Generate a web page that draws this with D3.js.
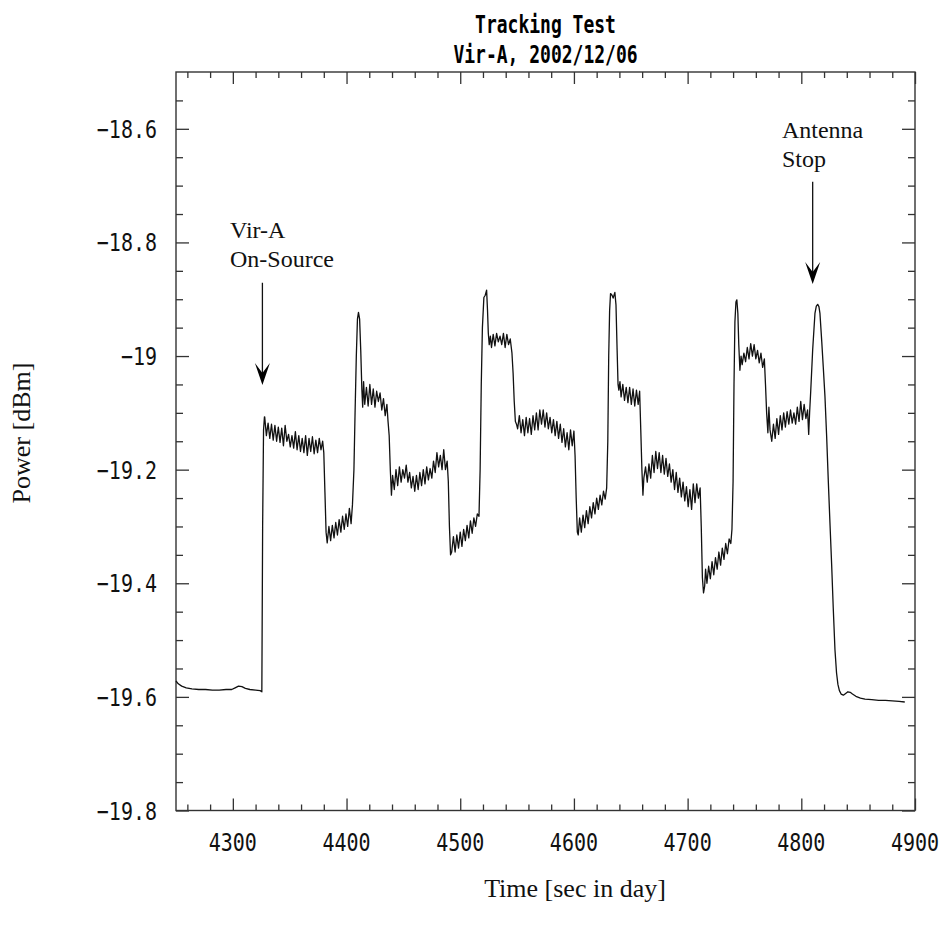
<!DOCTYPE html>
<html>
<head>
<meta charset="utf-8">
<script src="https://cdn.jsdelivr.net/npm/d3@7/dist/d3.min.js"></script>
<style>
html,body{margin:0;padding:0;background:#fff;}
svg{display:block;}
</style>
</head>
<body>
<script>
// ---------------- DATA ----------------
const titleLines = ["Tracking Test", "Vir-A, 2002/12/06"];
const xLabel = "Time [sec in day]";
const yLabel = "Power [dBm]";
const xDomain = [4250, 4900];
const yDomain = [-19.8, -18.5];
const xMajorTicks = [4300, 4400, 4500, 4600, 4700, 4800, 4900];
const yMajorTicks = [-19.8, -19.6, -19.4, -19.2, -19.0, -18.8, -18.6];
const yTickLabels = ["\u221219.8", "\u221219.6", "\u221219.4", "\u221219.2", "\u221219", "\u221218.8", "\u221218.6"];

// time [sec in day]
const time = [
4250,4252,4255,4259,4264,4270,4276,4282,4288,4294,4299,4302,4305,4308,4311,4315,4320,4324,4325.5,
4326.2,4327,4327.8,
4328,4329.5,4331,4332.5,4334,4335.5,4337,4338.5,4340,4341.5,4343,4344.5,4346,4347.5,4349,4350.5,4352,4353.5,4355,4356.5,4358,4359.5,4361,4362.5,4364,4365.5,4367,4368.5,4370,4371.5,4373,4374.5,4376,4377.5,4379,
4380,4381,4382,4383,
4384.5,4386,4387.5,4389,4390.5,4392,4393.5,4395,4396.5,4398,4399.5,4401,4402.5,4404,4405.2,
4406.5,4407.5,4408.6,4409.6,4410.5,4411.5,4412.5,4413.5,4414.2,
4415,4416,4417.5,4419,4420.5,4422,4423.5,4425,4426.5,4428,4429.5,4431,4432.5,4434,4435.5,4436.5,
4437.5,4438.5,4439.5,
4440.5,4442,4443.5,4445,4446.5,4448,4449.5,4451,4452.5,4454,4455.5,4457,4458.5,4460,4461.5,4463,4464.5,4466,4467.5,4469,4470.5,4472,4473.5,4475,4476.5,4478,4479.5,4481,4482.5,4484,4485.5,4487,4488.5,
4489.5,4490.5,4491.5,4492.5,
4494,4495.5,4497,4498.5,4500,4501.5,4503,4504.5,4506,4507.5,4509,4510.5,4512,4513.5,4515,4516.5,
4517.5,4518.5,4519.5,4520.8,4522,4523.2,4524,4524.7,
4525.5,4526.5,4527.5,4529,4530.5,4532,4533.5,4535,4536.5,4538,4539.5,4541,4542.5,4544,4545.5,
4546.5,4547.5,4548.5,4549.5,
4550.5,4552,4553.5,4555,4556.5,4558,4559.5,4561,4562.5,4564,4565.5,4567,4568.5,4570,4571.5,4573,4574.5,4576,4577.5,4579,4580.5,4582,4583.5,4585,4586.5,4588,4589.5,4591,4592.5,4594,4595.5,4597,4598.5,4600,
4601,4602,4603,4603.8,
4605,4606.5,4608,4609.5,4611,4612.5,4614,4615.5,4617,4618.5,4620,4621.5,4623,4624.5,4626,4627.5,4628.8,
4629.8,4630.6,4631.4,4632.2,4633.5,4634.5,4636,4637,4638,4638.8,
4639.5,4640.5,4641.5,4643,4644.5,4646,4647.5,4649,4650.5,4652,4653.5,4655,4656.5,4657.8,
4658.8,4659.8,4660.7,
4661.5,4663,4664.5,4666,4667.5,4669,4670.5,4672,4673.5,4675,4676.5,4678,4679.5,4681,4682.5,4684,4685.5,4687,4688.5,4690,4691.5,4693,4694.5,4696,4697.5,4699,4700.5,4702,4703.5,4705,4706.5,4708,4709.5,4711,
4712,4713,4714,4715,
4715.8,4717,4718.5,4720,4721.5,4723,4724.5,4726,4727.5,4729,4730.5,4732,4733.5,4735,4736.5,4738,4739,
4740,4740.8,4741.6,4742.5,4743.3,4744.2,4745,4746,
4747,4748,4749.5,4751,4752.5,4754,4755.5,4757,4758.5,4760,4761.5,4763,4764.5,4766,4767.5,
4768.5,4769.5,4770.6,
4771.5,4772.5,4774,4775.5,4777,4778.5,4780,4781.5,4783,4784.5,4786,4787.5,4789,4790.5,4792,4793.5,4795,4796.5,4798,4799.5,4801,4802.5,4804,4805.5,4806.5,
4807.3,4808.2,4810,4812,4813.2,4814.4,4815.5,4816.4,4818,4819.3,4820.8,4822.3,4823.7,4825.2,4826.7,4828.1,4829.6,4831,4832.2,4833.5,4835,4837,4839,4841,4843,4845,4848,4852,4856,4862,4868,4874,4880,4886,4891
];

// power [dBm]
const power = [
-19.572,-19.577,-19.581,-19.584,-19.586,-19.587,-19.587,-19.588,-19.588,-19.587,-19.587,-19.584,-19.581,-19.582,-19.585,-19.587,-19.588,-19.589,-19.591,
-19.300,-19.130,-19.107,
-19.107,-19.140,-19.118,-19.145,-19.120,-19.148,-19.122,-19.150,-19.125,-19.152,-19.127,-19.158,-19.122,-19.150,-19.138,-19.160,-19.140,-19.162,-19.133,-19.165,-19.140,-19.168,-19.145,-19.170,-19.140,-19.175,-19.145,-19.168,-19.142,-19.172,-19.148,-19.170,-19.145,-19.165,-19.150,
-19.170,-19.240,-19.310,-19.329,
-19.300,-19.325,-19.298,-19.320,-19.293,-19.315,-19.288,-19.310,-19.282,-19.305,-19.278,-19.300,-19.268,-19.295,-19.262,
-19.200,-19.100,-19.000,-18.935,-18.923,-18.935,-18.990,-19.060,-19.090,
-19.045,-19.085,-19.055,-19.088,-19.050,-19.085,-19.058,-19.090,-19.062,-19.080,-19.065,-19.095,-19.075,-19.105,-19.085,-19.115,
-19.140,-19.200,-19.245,
-19.210,-19.235,-19.200,-19.228,-19.195,-19.222,-19.200,-19.215,-19.192,-19.222,-19.205,-19.232,-19.212,-19.238,-19.210,-19.235,-19.205,-19.228,-19.200,-19.225,-19.195,-19.218,-19.198,-19.215,-19.185,-19.205,-19.170,-19.195,-19.175,-19.200,-19.165,-19.200,-19.185,
-19.220,-19.300,-19.350,-19.345,
-19.318,-19.345,-19.315,-19.338,-19.310,-19.335,-19.305,-19.325,-19.298,-19.320,-19.290,-19.312,-19.285,-19.300,-19.278,-19.282,
-19.200,-19.050,-18.950,-18.897,-18.893,-18.884,-18.920,-18.960,
-18.980,-18.965,-18.985,-18.962,-18.982,-18.960,-18.975,-18.965,-18.980,-18.960,-18.985,-18.962,-18.980,-18.970,-18.995,
-19.030,-19.080,-19.115,-19.120,
-19.128,-19.105,-19.135,-19.112,-19.140,-19.108,-19.135,-19.110,-19.138,-19.105,-19.130,-19.100,-19.130,-19.095,-19.120,-19.095,-19.125,-19.100,-19.128,-19.108,-19.135,-19.112,-19.140,-19.115,-19.145,-19.120,-19.152,-19.128,-19.160,-19.135,-19.165,-19.130,-19.158,-19.132,
-19.175,-19.250,-19.310,-19.315,
-19.285,-19.310,-19.280,-19.302,-19.272,-19.295,-19.265,-19.285,-19.258,-19.278,-19.250,-19.270,-19.245,-19.262,-19.238,-19.252,-19.232,
-19.150,-19.000,-18.920,-18.890,-18.893,-18.898,-18.888,-18.910,-18.990,-19.050,
-19.060,-19.045,-19.072,-19.050,-19.078,-19.055,-19.082,-19.055,-19.085,-19.058,-19.088,-19.060,-19.085,-19.062,
-19.130,-19.200,-19.245,
-19.215,-19.195,-19.222,-19.190,-19.215,-19.175,-19.205,-19.168,-19.198,-19.170,-19.205,-19.175,-19.208,-19.180,-19.212,-19.190,-19.222,-19.200,-19.235,-19.205,-19.240,-19.215,-19.248,-19.222,-19.255,-19.230,-19.265,-19.235,-19.270,-19.225,-19.258,-19.225,-19.250,-19.232,
-19.300,-19.390,-19.417,-19.405,
-19.375,-19.400,-19.370,-19.392,-19.362,-19.385,-19.355,-19.375,-19.345,-19.368,-19.338,-19.358,-19.330,-19.348,-19.322,-19.330,-19.305,
-19.220,-19.050,-18.940,-18.905,-18.901,-18.925,-18.980,-19.025,
-19.000,-19.015,-18.995,-19.010,-18.985,-19.005,-18.978,-19.000,-18.980,-19.005,-18.990,-19.012,-18.995,-19.020,-19.005,
-19.050,-19.100,-19.135,
-19.090,-19.130,-19.150,-19.120,-19.145,-19.110,-19.138,-19.105,-19.130,-19.100,-19.125,-19.098,-19.120,-19.095,-19.118,-19.100,-19.120,-19.090,-19.115,-19.080,-19.112,-19.085,-19.110,-19.095,-19.138,
-19.100,-19.065,-18.989,-18.925,-18.912,-18.909,-18.913,-18.925,-18.975,-19.019,-19.071,-19.142,-19.218,-19.294,-19.368,-19.444,-19.517,-19.558,-19.578,-19.589,-19.595,-19.597,-19.594,-19.591,-19.592,-19.595,-19.599,-19.602,-19.604,-19.605,-19.606,-19.606,-19.607,-19.608,-19.609
];

// annotations (data coordinates)
const annoLabels = [["Vir-A", "On-Source"], ["Antenna", "Stop"]];
const annoTextX = [4297.5, 4783];
const annoTextY = [[-18.792, -18.843], [-18.616, -18.667]];
const arrowX = [4326, 4810];
const arrowTop = [-18.871, -18.693];
const arrowTip = [-19.051, -18.873];

// ---------------- CHART ----------------
const W = 942, H = 936;
const margin = {left: 176, right: 942 - 915, top: 72, bottom: 936 - 810.5};
const svg = d3.select("body").append("svg").attr("width", W).attr("height", H);
svg.append("rect").attr("width", W).attr("height", H).attr("fill", "#fff");

const x = d3.scaleLinear().domain(xDomain).range([margin.left, W - margin.right]);
const y = d3.scaleLinear().domain(yDomain).range([H - margin.bottom, margin.top]);

const axisColor = "#333";
const monoFont = "'DejaVu Sans Mono', 'Liberation Mono', monospace";
const serifFont = "'Liberation Serif', 'DejaVu Serif', serif";

const xMinor = d3.range(4260, 4900, 20).filter(v => v % 100 !== 0);
const yMinor = d3.range(-19.75, -18.5, 0.05).map(v => +v.toFixed(2)).filter(v => Math.abs(Math.round(v * 5) - v * 5) > 1e-6);

function styleAxis(g) {
  g.select(".domain").remove();
  g.selectAll(".tick line").attr("stroke", axisColor).attr("stroke-width", 1.3);
  g.selectAll(".tick text").remove();
}

const yB = y.range()[0], yT = y.range()[1];
const xL = x.range()[0], xR = x.range()[1];

// bottom / top axes
svg.append("g").attr("transform", `translate(0,${yB})`)
  .call(d3.axisBottom(x).tickValues(xMajorTicks).tickSize(-12)).call(styleAxis);
svg.append("g").attr("transform", `translate(0,${yB})`)
  .call(d3.axisBottom(x).tickValues(xMinor).tickSize(-6)).call(styleAxis);
svg.append("g").attr("transform", `translate(0,${yT})`)
  .call(d3.axisTop(x).tickValues(xMajorTicks).tickSize(-12)).call(styleAxis);
svg.append("g").attr("transform", `translate(0,${yT})`)
  .call(d3.axisTop(x).tickValues(xMinor).tickSize(-6)).call(styleAxis);
// left / right axes
svg.append("g").attr("transform", `translate(${xL},0)`)
  .call(d3.axisLeft(y).tickValues(yMajorTicks).tickSize(-13)).call(styleAxis);
svg.append("g").attr("transform", `translate(${xL},0)`)
  .call(d3.axisLeft(y).tickValues(yMinor).tickSize(-7)).call(styleAxis);
svg.append("g").attr("transform", `translate(${xR},0)`)
  .call(d3.axisRight(y).tickValues(yMajorTicks).tickSize(-13)).call(styleAxis);
svg.append("g").attr("transform", `translate(${xR},0)`)
  .call(d3.axisRight(y).tickValues(yMinor).tickSize(-7)).call(styleAxis);

// frame
svg.append("rect").attr("x", xL).attr("y", yT).attr("width", xR - xL).attr("height", yB - yT)
  .attr("fill", "none").attr("stroke", axisColor).attr("stroke-width", 1.4);

// tick labels
svg.append("g").selectAll("text").data(xMajorTicks).join("text")
  .attr("transform", d => `translate(${x(d)},${yB + 40}) scale(0.8,1)`)
  .attr("text-anchor", "middle").attr("font-family", monoFont).attr("font-size", 25)
  .attr("fill", "#111").text(d => d);
svg.append("g").selectAll("text").data(yMajorTicks).join("text")
  .attr("transform", d => `translate(${xL - 19},${y(d) + 9}) scale(0.8,1)`)
  .attr("text-anchor", "end").attr("font-family", monoFont).attr("font-size", 25)
  .attr("fill", "#111").text((d, i) => yTickLabels[i]);

// title: two lines
const titleX = (xL + xR) / 2;
svg.append("g").selectAll("text").data(titleLines).join("text")
  .attr("transform", (d, i) => `translate(${titleX},${33 + i * 30}) scale(0.72,1)`)
  .attr("text-anchor", "middle").attr("font-family", monoFont).attr("font-size", 25)
  .attr("font-weight", "bold").attr("fill", "#000").text(d => d);

// axis labels
svg.append("text").attr("x", 575).attr("y", 897).attr("text-anchor", "middle")
  .attr("font-family", serifFont).attr("font-size", 26).attr("fill", "#111").text(xLabel);
svg.append("text").attr("transform", `translate(30,433) rotate(-90)`).attr("text-anchor", "middle")
  .attr("font-family", serifFont).attr("font-size", 26).attr("fill", "#111").text(yLabel);

// data line
const line = d3.line().x((d, i) => x(time[i])).y(d => y(d));
svg.append("path").datum(power).attr("d", line)
  .attr("fill", "none").attr("stroke", "#111").attr("stroke-width", 1.3).attr("stroke-linejoin", "round");

// annotations
annoLabels.forEach((lines, k) => {
  lines.forEach((t, j) => {
    svg.append("text").attr("x", x(annoTextX[k])).attr("y", y(annoTextY[k][j]))
      .attr("font-family", serifFont).attr("font-size", 24).attr("fill", "#111").text(t);
  });
  const ax = x(arrowX[k]), a0 = y(arrowTop[k]), a1 = y(arrowTip[k]);
  svg.append("line").attr("x1", ax).attr("x2", ax).attr("y1", a0).attr("y2", a1 - 12)
    .attr("stroke", "#111").attr("stroke-width", 1.3);
  svg.append("path")
    .attr("d", `M${ax},${a1} L${ax - 7.5},${a1 - 22} L${ax},${a1 - 12} L${ax + 7.5},${a1 - 22} Z`)
    .attr("fill", "#000");
});
</script>
</body>
</html>
